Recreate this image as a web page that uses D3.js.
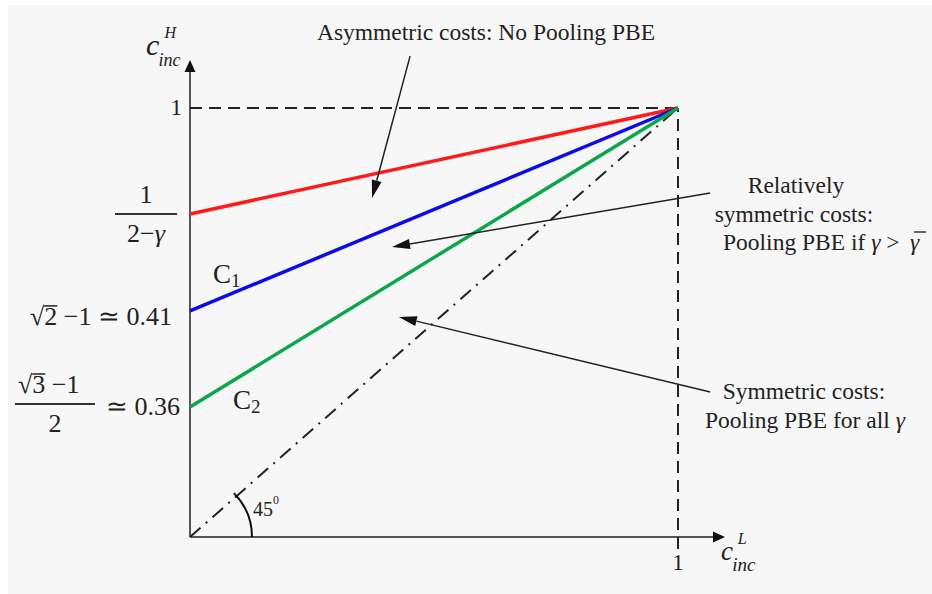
<!DOCTYPE html>
<html>
<head>
<meta charset="utf-8">
<script src="https://cdn.jsdelivr.net/npm/d3@7"></script>
</head>
<body>
<svg id="chart" width="932" height="594"></svg>
<script>

// data (unit square, everything meets at (1,1))
var curveNames = ["red", "C1", "C2"];
var curveColors = ["#ff1a1a", "#0a0af0", "#0aa84a"];
var curveStart = [0.753, 0.527, 0.303];   // value at c_inc^L = 0
var curveEnd = [1, 1, 1];                 // value at c_inc^L = 1
var yTickValues = [1, 0.753, 0.527, 0.303];
var xTickValues = [1];

// annotation arrows: [from x, from y] -> [to x, to y] in data units
var arrowFrom = [[0.451, 1.121], [1.066, 0.802], [1.066, 0.338]];
var arrowTo = [[0.373, 0.790], [0.414, 0.676], [0.428, 0.513]];

d3.select("body").style("margin", "0");
const svg = d3.select("#chart").style("display", "block");

svg.append("rect")
    .attr("x", 8).attr("y", 5)
    .attr("width", 924).attr("height", 589)
    .attr("fill", "#f7f7f7");

const x = d3.scaleLinear().domain([0, 1]).range([190, 678]);
const y = d3.scaleLinear().domain([0, 1]).range([537, 108]);

// serif text helper
function txt(tx, ty, size) {
    return svg.append("text").attr("x", tx).attr("y", ty)
        .attr("font-family", "Liberation Serif")
        .style("font-family", "Liberation Serif")
        .attr("font-size", size)
        .attr("fill", "#222");
}
function span(t, s) {
    return t.append("tspan")
        .attr("font-family", "Liberation Serif")
        .style("font-family", "Liberation Serif")
        .text(s);
}

// axes with arrow tips
svg.append("line")
    .attr("x1", x(0)).attr("y1", y(0))
    .attr("x2", x(0)).attr("y2", 62)
    .attr("stroke", "#555").attr("stroke-width", 2);
svg.append("path")
    .attr("d", "M" + x(0) + ",60 L" + (x(0) - 5.5) + ",72 L" + (x(0) + 5.5) + ",72Z")
    .attr("fill", "#111");
svg.append("line")
    .attr("x1", x(0)).attr("y1", y(0))
    .attr("x2", 723).attr("y2", y(0))
    .attr("stroke", "#555").attr("stroke-width", 2);
svg.append("path")
    .attr("d", "M725," + y(0) + " L713," + (y(0) - 5.5) + " L713," + (y(0) + 5.5) + "Z")
    .attr("fill", "#111");

// dashed guides at 1
svg.append("line")
    .attr("x1", x(0)).attr("y1", y(1)).attr("x2", x(1)).attr("y2", y(1))
    .attr("stroke", "#222").attr("stroke-width", 2)
    .attr("stroke-dasharray", "12,7");
svg.append("line")
    .attr("x1", x(1)).attr("y1", y(0) + 12).attr("x2", x(1)).attr("y2", y(1))
    .attr("stroke", "#222").attr("stroke-width", 2)
    .attr("stroke-dasharray", "12,7");

// 45 degree line
svg.append("line")
    .attr("x1", x(0)).attr("y1", y(0)).attr("x2", x(1)).attr("y2", y(1))
    .attr("stroke", "#222").attr("stroke-width", 2)
    .attr("stroke-dasharray", "14,7,2,7");

// curves
const line = d3.line().x(d => x(d[0])).y(d => y(d[1]));
curveNames.forEach(function (name, i) {
    svg.append("path")
        .attr("d", line([[0, curveStart[i]], [1, curveEnd[i]]]))
        .attr("fill", "none")
        .attr("stroke", curveColors[i])
        .attr("stroke-width", 3.5);
});

// 45 degree arc
const r = 62;
svg.append("path")
    .attr("d", d3.arc()({ innerRadius: r, outerRadius: r, startAngle: Math.PI / 2, endAngle: Math.PI / 4 }))
    .attr("transform", "translate(" + x(0) + "," + y(0) + ")")
    .attr("fill", "none").attr("stroke", "#111").attr("stroke-width", 2);
const deg = txt(253, 516, 20);
span(deg, "45");
span(deg, "0").attr("dy", -12).attr("font-size", 12);

// annotation arrows, heads drawn as small triangles
arrowFrom.forEach(function (p, i) {
    const x1 = x(p[0]), y1 = y(p[1]), x2 = x(arrowTo[i][0]), y2 = y(arrowTo[i][1]);
    const a = Math.atan2(y2 - y1, x2 - x1), len = 18, hw = 5;
    const bx = x2 - len * Math.cos(a), by = y2 - len * Math.sin(a);
    svg.append("line")
        .attr("x1", x1).attr("y1", y1).attr("x2", bx).attr("y2", by)
        .attr("stroke", "#222").attr("stroke-width", 1.5);
    svg.append("path")
        .attr("d", "M" + x2 + "," + y2 +
            "L" + (bx + hw * Math.sin(a)) + "," + (by - hw * Math.cos(a)) +
            "L" + (bx - hw * Math.sin(a)) + "," + (by + hw * Math.cos(a)) + "Z")
        .attr("fill", "#111");
});

// annotation texts
function note(tx, ty, parts, anchor) {
    const t = txt(tx, ty, 23.5).attr("text-anchor", anchor || "middle");
    parts.forEach(function (p) {
        const s = span(t, p[0]);
        if (p[1]) s.attr("font-style", "italic");
    });
    return t;
}
note(486, 40, [["Asymmetric costs: No Pooling PBE"]]);
note(796, 193, [["Relatively"]]);
note(794, 222, [["symmetric costs:"]]);
note(723, 250, [["Pooling PBE if "], ["γ", 1], [" >"]], "start");
note(910, 250, [["γ", 1]], "start");
svg.append("line")
    .attr("x1", 914).attr("x2", 926)
    .attr("y1", 232).attr("y2", 232)
    .attr("stroke", "#333").attr("stroke-width", 1.5);
note(804, 399, [["Symmetric costs:"]]);
note(805, 428, [["Pooling PBE for all "], ["γ", 1]]);

// curve labels
function curveLabel(tx, ty, sub) {
    const t = txt(tx, ty, 27);
    span(t, "C");
    span(t, sub).attr("dy", 4).attr("font-size", 19);
}
curveLabel(213, 283, "1");
curveLabel(233, 409, "2");

// y tick labels (custom math labels at yTickValues)
txt(182, y(yTickValues[0]) + 7, 23).attr("text-anchor", "end").text("1");

function fracBar(cx, cy, half) {
    svg.append("line").attr("x1", cx - half).attr("x2", cx + half)
        .attr("y1", cy).attr("y2", cy).attr("stroke", "#333").attr("stroke-width", 2);
}
// root sign, radicand with bar, then the rest; starts at x0
function rootLabel(x0, base, digit, rest) {
    const t = txt(x0, base, 26);
    span(t, "√");
    span(t, digit);
    span(t, rest);
    const rx = x0 + 26 * 0.55;
    svg.append("line").attr("x1", rx).attr("x2", rx + 13)
        .attr("y1", base - 19).attr("y2", base - 19)
        .attr("stroke", "#222").attr("stroke-width", 1.5);
}

// 1 / (2 - gamma)
const yr = y(yTickValues[1]);
fracBar(146, yr, 31);
txt(146, yr - 11, 26).attr("text-anchor", "middle").text("1");
const den = txt(146, yr + 28, 26).attr("text-anchor", "middle");
span(den, "2−");
span(den, "γ").attr("font-style", "italic");

// sqrt(2) - 1
rootLabel(30, y(yTickValues[2]) + 14, "2", " −1 ≃ 0.41");

// (sqrt(3) - 1) / 2
const yg = y(yTickValues[3]) - 3;
fracBar(55, yg, 40);
rootLabel(18, yg - 11, "3", " −1");
txt(55, yg + 28, 26).attr("text-anchor", "middle").text("2");
txt(180, y(yTickValues[3]) + 8, 26).attr("text-anchor", "end").text("≃ 0.36");

// x tick label
xTickValues.forEach(function (v) {
    txt(x(v), 570, 23).attr("text-anchor", "middle").text("1");
});

// axis titles: italic c with superscript and "inc" subscript
function axisTitle(cx, cy, size, sup, supSize, subSize) {
    txt(cx, cy, size).attr("font-style", "italic").text("c");
    txt(cx + size * 0.62, cy - size * 0.58, supSize).attr("font-style", "italic").text(sup);
    txt(cx + size * 0.42, cy + 11, subSize).attr("font-style", "italic").text("inc");
}
axisTitle(146, 55, 30, "H", 16, 18);
axisTitle(721, 560, 27, "L", 16, 19);

</script>
</body>
</html>
